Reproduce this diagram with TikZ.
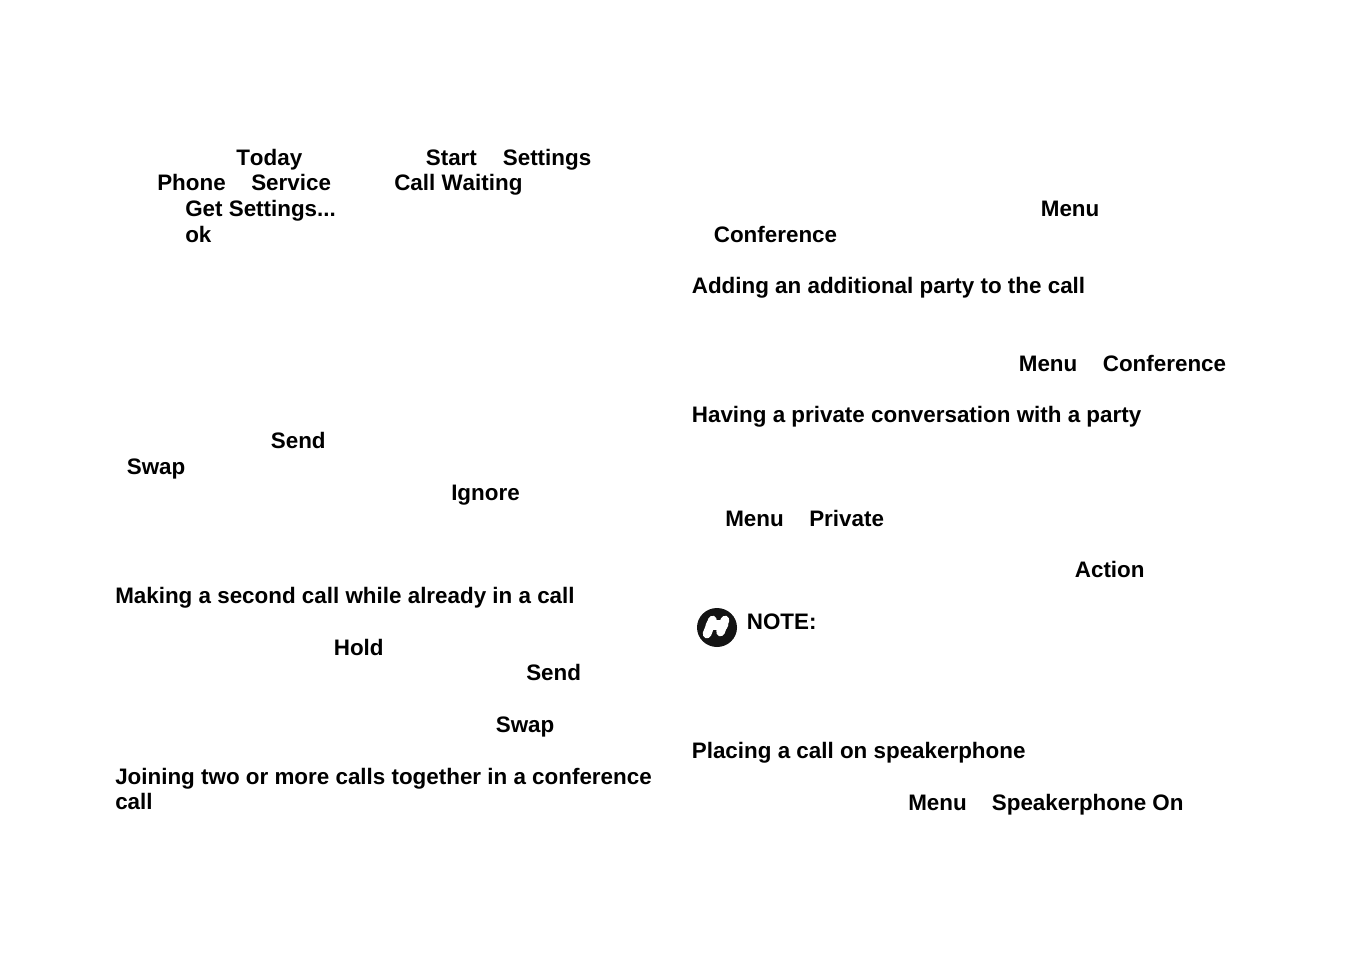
\documentclass[tikz,border=0pt]{standalone}
\usepackage{fontspec}
\setmainfont[Kerning=Off]{Liberation Sans}
\tikzset{%
  lbl/.style={anchor=base west,inner sep=0pt,font=\fontsize{16.8pt}{20pt}\selectfont\bfseries}
}
\begin{document}
\begin{tikzpicture}[x=0.75pt,y=-0.75pt]
\useasboundingbox (0,0) rectangle (1350,954);

% left column
\node[lbl] (today) at (236,165) {Today};
\node[lbl] (start) at (425.6,165) {Start};
\node[lbl] (settings) at (502.6,165) {Settings};
\node[lbl] (phone) at (157,190) {Phone};
\node[lbl] (service) at (251,190) {Service};
\node[lbl] (waiting) at (394,190) {Call Waiting};
\node[lbl] (getset) at (185,216) {Get Settings...};
\node[lbl] (ok) at (185,242) {ok};
\node[lbl] (send) at (270.6,448) {Send};
\node[lbl] (swap) at (126.6,474) {Swap};
\node[lbl] (ignore) at (451,500) {Ignore};
\node[lbl] (second) at (115,603) {Making a second call while already in a call};
\node[lbl] (hold) at (333.6,655) {Hold};
\node[lbl] (sendb) at (526,680) {Send};
\node[lbl] (swapb) at (495.6,732) {Swap};
\node[lbl] (joining) at (115,784) {Joining two or more calls together in a conference};
\node[lbl] (call) at (115,809) {call};

% right column
\node[lbl] (menu) at (1040.6,216) {Menu};
\node[lbl] (conf) at (713.6,242) {Conference};
\node[lbl] (adding) at (691.6,293) {Adding an additional party to the call};
\node[lbl] (menub) at (1018.6,371) {Menu};
\node[lbl] (confb) at (1102.6,371) {Conference};
\node[lbl] (private) at (691.6,422) {Having a private conversation with a party};
\node[lbl] (menuc) at (725,526) {Menu};
\node[lbl] (privb) at (809,526) {Private};
\node[lbl] (action) at (1074.6,577) {Action};
\node[lbl] (note) at (746.6,629) {NOTE:};
\node[lbl] (speaker) at (691.6,758) {Placing a call on speakerphone};
\node[lbl] (menud) at (908,810) {Menu};
\node[lbl] (spkon) at (991.6,810) {Speakerphone On};

% note icon
\fill[black!92] (717,627.5) ellipse (20 and 19.5);
\draw[white,line width=6.5pt,line cap=round,line join=round]
  (707,634) -- (712.5,620) (720.5,632) -- (725,620);
\draw[white,line width=8pt,line cap=round] (711,625) -- (723,625);

\end{tikzpicture}
\end{document}
